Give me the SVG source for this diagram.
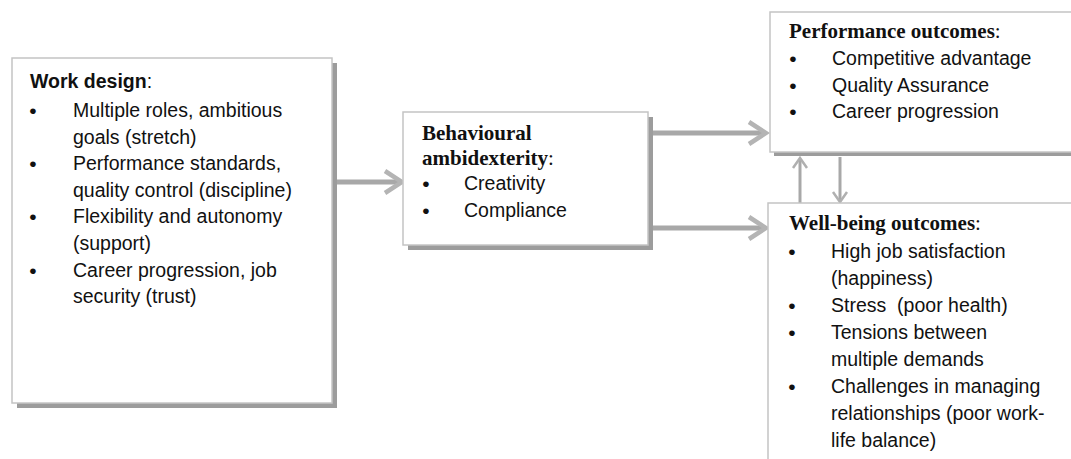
<svg xmlns="http://www.w3.org/2000/svg" width="1071" height="459" viewBox="0 0 1071 459">
<style>
.box{fill:#fff;stroke:#c4c4c4;stroke-width:1.5}
.shadow{fill:#9c9c9c}
.body{font-family:"Liberation Sans",Arial,sans-serif;font-size:19.5px;fill:#111}
.bold{font-family:"Liberation Sans",Arial,sans-serif;font-size:19.5px;font-weight:bold;fill:#111}
.title{font-family:"Liberation Serif","Times New Roman",serif;font-size:21px;font-weight:bold;fill:#111}
.titlec{font-family:"Liberation Serif","Times New Roman",serif;font-size:21px;font-weight:normal}
.bul{font-family:"Liberation Sans",sans-serif;font-size:21px;fill:#111;text-anchor:middle}
.thick{stroke:#a8a8a8;stroke-width:5;fill:none}
.thin{stroke:#a8a8a8;stroke-width:3;fill:none}
</style>
<defs>
<marker id="chev" markerUnits="userSpaceOnUse" viewBox="0 0 24 28" markerWidth="24" markerHeight="28" refX="18" refY="14" orient="auto">
<path d="M3,3 L20,14 L3,25" fill="none" stroke="#b4b4b4" stroke-width="4.5"/>
</marker>
<marker id="chevs" markerUnits="userSpaceOnUse" viewBox="0 0 18 18" markerWidth="18" markerHeight="18" refX="14" refY="9" orient="auto">
<path d="M5,2 L15,9 L5,16" fill="none" stroke="#b0b0b0" stroke-width="2.5"/>
</marker>
</defs>
<rect width="1071" height="459" fill="#fff"/>

<g id="connectors">
<line class="thick" x1="332" y1="182" x2="400" y2="182" marker-end="url(#chev)"/>
<line class="thick" x1="650" y1="133" x2="764" y2="133" marker-end="url(#chev)"/>
<line class="thick" x1="650" y1="228" x2="764" y2="228" marker-end="url(#chev)"/>
<line class="thin" x1="800" y1="203" x2="800" y2="159" marker-end="url(#chevs)"/>
<line class="thin" x1="840" y1="157" x2="840" y2="201" marker-end="url(#chevs)"/>
</g>

<g id="work-design">
<rect class="shadow" x="17" y="63" width="320" height="345"/>
<rect class="box" x="12" y="58" width="320" height="345"/>
<text class="bold" x="30" y="88">Work design<tspan font-weight="normal">:</tspan></text>
<text class="bul" x="33" y="118">•</text>
<text class="bul" x="33" y="171">•</text>
<text class="bul" x="33" y="224">•</text>
<text class="bul" x="33" y="278">•</text>
<text class="body" x="73" y="117">Multiple roles, ambitious</text>
<text class="body" x="73" y="143.5">goals (stretch)</text>
<text class="body" x="73" y="170">Performance standards,</text>
<text class="body" x="73" y="196.5">quality control (discipline)</text>
<text class="body" x="73" y="223">Flexibility and autonomy</text>
<text class="body" x="73" y="250">(support)</text>
<text class="body" x="73" y="277">Career progression, job</text>
<text class="body" x="73" y="303">security (trust)</text>
</g>

<g id="behavioural">
<rect class="shadow" x="408" y="117" width="245" height="133"/>
<rect class="box" x="403" y="112" width="245" height="133"/>
<text class="title" x="422" y="140">Behavioural</text>
<text class="title" x="422" y="165">ambidexterity<tspan class="titlec">:</tspan></text>
<text class="bul" x="426" y="191">•</text>
<text class="bul" x="426" y="218">•</text>
<text class="body" x="464" y="190">Creativity</text>
<text class="body" x="464" y="217">Compliance</text>
</g>

<g id="performance">
<rect class="shadow" x="774" y="16" width="310" height="140"/>
<rect class="box" x="770" y="12" width="310" height="140"/>
<text class="title" x="789" y="38">Performance outcomes<tspan class="titlec">:</tspan></text>
<text class="bul" x="793" y="66">•</text>
<text class="bul" x="793" y="93">•</text>
<text class="bul" x="793" y="119">•</text>
<text class="body" x="832" y="65">Competitive advantage</text>
<text class="body" x="832" y="92">Quality Assurance</text>
<text class="body" x="832" y="118">Career progression</text>
</g>

<g id="wellbeing">
<rect class="box" x="768" y="203" width="320" height="270"/>
<text class="title" x="789" y="230">Well-being outcomes<tspan class="titlec">:</tspan></text>
<text class="bul" x="792" y="259">•</text>
<text class="bul" x="792" y="313">•</text>
<text class="bul" x="792" y="340">•</text>
<text class="bul" x="792" y="394">•</text>
<text class="body" x="831" y="258">High job satisfaction</text>
<text class="body" x="831" y="285">(happiness)</text>
<text class="body" x="831" y="312" xml:space="preserve">Stress  (poor health)</text>
<text class="body" x="831" y="339">Tensions between</text>
<text class="body" x="831" y="366">multiple demands</text>
<text class="body" x="831" y="393">Challenges in managing</text>
<text class="body" x="831" y="420">relationships (poor work-</text>
<text class="body" x="831" y="447">life balance)</text>
</g>
</svg>
